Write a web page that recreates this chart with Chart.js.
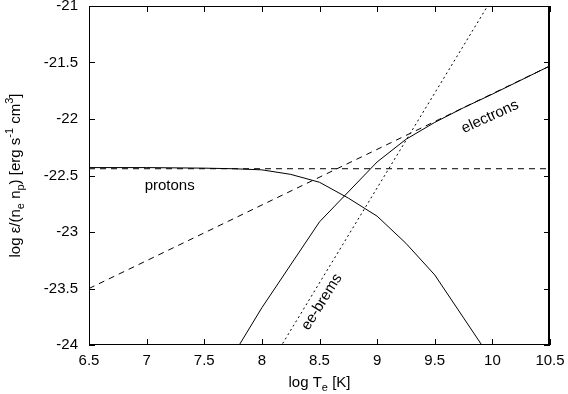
<!DOCTYPE html>
<html>
<head>
<meta charset="utf-8">
<script src="https://cdn.jsdelivr.net/npm/chart.js@4/dist/chart.umd.min.js"></script>
<style>
  html, body { margin: 0; padding: 0; background: #fff; }
  #wrap { width: 568px; height: 394px; }
</style>
</head>
<body>
<div id="wrap"><canvas id="coolChart"></canvas></div>
<script>
// log T_e [K] and log emissivity values
const protonT = [6.5, 7, 7.5, 7.75, 8, 8.25, 8.5, 8.75, 9, 9.25, 9.5, 9.75, 10];
const protonLog = [-22.43, -22.43, -22.435, -22.44, -22.45, -22.49, -22.56, -22.70, -22.86, -23.10, -23.38, -23.76, -24.14];

const electronT = [7.75, 8, 8.5, 9, 9.25, 9.5, 9.75, 10, 10.5];
const electronLog = [-24.09, -23.67, -22.91, -22.38, -22.18, -22.03, -21.90, -21.78, -21.53];

// asymptotic approximations
const protonApproxT = [6.5, 10.5];
const protonApproxLog = [-22.44, -22.44];
const electronApproxT = [6.5, 10.5];
const electronApproxLog = [-23.5, -21.53];
const eeBremsT = [8, 10];
const eeBremsLog = [-24.29, -20.93];

const xTicks = [6.5, 7, 7.5, 8, 8.5, 9, 9.5, 10, 10.5];
const yTicks = [-24, -23.5, -23, -22.5, -22, -21.5, -21];

// curve labels: text, x, y, angle (deg)
const curveLabels = [
    ["protons", 7.2, -22.59, 0],
    ["electrons", 9.98, -21.98, -24.5],
    ["ee-brems", 8.52, -23.62, -58]
];

const FONT = "15px 'Liberation Sans', Arial, sans-serif";
const SMALL = "11px 'Liberation Sans', Arial, sans-serif";

function pts(xs, ys) {
    return xs.map((x, i) => ({ x: x, y: ys[i] }));
}

// draw a string made of [text, shift] pieces; shift 0 normal, -1 sub, 1 sup
function drawRich(ctx, parts, x, y) {
    let total = 0;
    parts.forEach(p => {
        ctx.font = p[1] === 0 ? FONT : SMALL;
        total += ctx.measureText(p[0]).width;
    });
    let cx = x - total / 2;
    parts.forEach(p => {
        ctx.font = p[1] === 0 ? FONT : SMALL;
        const dy = p[1] === -1 ? 4 : (p[1] === 1 ? -7 : 0);
        ctx.fillText(p[0], cx, y + dy);
        cx += ctx.measureText(p[0]).width;
    });
}

const decorations = {
    id: "decorations",
    afterDraw(chart) {
        const ctx = chart.ctx;
        const a = chart.chartArea;
        const xs = chart.scales.x, ys = chart.scales.y;
        ctx.save();
        // frame
        ctx.strokeStyle = "#000";
        ctx.lineWidth = 1;
        ctx.strokeRect(a.left + 0.5, a.top + 0.5, a.right - a.left - 1, a.bottom - a.top - 1);
        ctx.lineWidth = 2;
        ctx.beginPath();
        ctx.moveTo(a.right - 1, a.top); ctx.lineTo(a.right - 1, a.bottom);
        ctx.stroke();
        ctx.lineWidth = 1;
        // inward ticks on all four sides
        ctx.beginPath();
        xTicks.forEach(v => {
            const px = Math.round(xs.getPixelForValue(v)) + 0.5;
            ctx.moveTo(px, a.bottom); ctx.lineTo(px, a.bottom - 6);
            ctx.moveTo(px, a.top); ctx.lineTo(px, a.top + 6);
        });
        yTicks.forEach(v => {
            const py = Math.round(ys.getPixelForValue(v)) + 0.5;
            ctx.moveTo(a.left, py); ctx.lineTo(a.left + 6, py);
            ctx.moveTo(a.right, py); ctx.lineTo(a.right - 6, py);
        });
        ctx.stroke();

        ctx.fillStyle = "#000";
        ctx.textBaseline = "alphabetic";
        ctx.textAlign = "left";
        // x title
        drawRich(ctx, [["log T", 0], ["e", -1], [" [K]", 0]], (a.left + a.right) / 2, 387);
        // y title
        ctx.save();
        ctx.translate(20, (a.top + a.bottom) / 2);
        ctx.rotate(-Math.PI / 2);
        drawRich(ctx, [["log \u03b5/(n", 0], ["e", -1], [" n", 0], ["p", -1], [") [erg s", 0], ["-1", 1], [" cm", 0], ["3", 1], ["]", 0]], 0, 0);
        ctx.restore();

        // curve labels
        ctx.font = FONT;
        ctx.textAlign = "center";
        ctx.textBaseline = "middle";
        curveLabels.forEach(l => {
            ctx.save();
            ctx.translate(xs.getPixelForValue(l[1]), ys.getPixelForValue(l[2]));
            ctx.rotate(l[3] * Math.PI / 180);
            ctx.fillText(l[0], 0, 0);
            ctx.restore();
        });
        ctx.restore();
    }
};

const ctx = document.getElementById("coolChart").getContext("2d");

new Chart(ctx, {
    type: "line",
    data: {
        datasets: [
            {
                label: "protons",
                data: pts(protonT, protonLog),
                borderColor: "#000",
                borderWidth: 1
            },
            {
                label: "electrons",
                data: pts(electronT, electronLog),
                borderColor: "#000",
                borderWidth: 1
            },
            {
                label: "protons approx",
                data: pts(protonApproxT, protonApproxLog),
                borderColor: "#000",
                borderWidth: 1,
                borderDash: [6, 5]
            },
            {
                label: "electrons approx",
                data: pts(electronApproxT, electronApproxLog),
                borderColor: "#000",
                borderWidth: 1,
                borderDash: [6, 5]
            },
            {
                label: "ee-brems",
                data: pts(eeBremsT, eeBremsLog),
                borderColor: "#000",
                borderWidth: 1,
                borderDash: [2, 3]
            }
        ]
    },
    options: {
        responsive: true,
        maintainAspectRatio: false,
        animation: false,
        events: [],
        elements: {
            point: { radius: 0 },
            line: { tension: 0 }
        },
        layout: {
            padding: { left: 0, top: 6, right: 18, bottom: 0 }
        },
        plugins: {
            legend: { display: false },
            tooltip: { enabled: false },
            title: { display: false }
        },
        scales: {
            x: {
                type: "linear",
                min: 6.5,
                max: 10.5,
                afterFit: s => { s.height = 49; s.paddingLeft = 0; s.paddingRight = 0; },
                afterBuildTicks: s => { s.ticks = xTicks.map(v => ({ value: v })); },
                grid: { display: false, drawTicks: false },
                border: { display: false },
                ticks: {
                    color: "#000",
                    font: { family: "'Liberation Sans', Arial, sans-serif", size: 15 },
                    padding: 7,
                    maxRotation: 0,
                    callback: v => String(v)
                }
            },
            y: {
                type: "linear",
                min: -24,
                max: -21,
                afterFit: s => { s.width = 89; s.paddingTop = 0; s.paddingBottom = 0; },
                afterBuildTicks: s => { s.ticks = yTicks.map(v => ({ value: v })); },
                grid: { display: false, drawTicks: false },
                border: { display: false },
                ticks: {
                    color: "#000",
                    font: { family: "'Liberation Sans', Arial, sans-serif", size: 15 },
                    padding: 11,
                    callback: v => String(v)
                }
            }
        }
    },
    plugins: [decorations]
});
</script>
</body>
</html>
